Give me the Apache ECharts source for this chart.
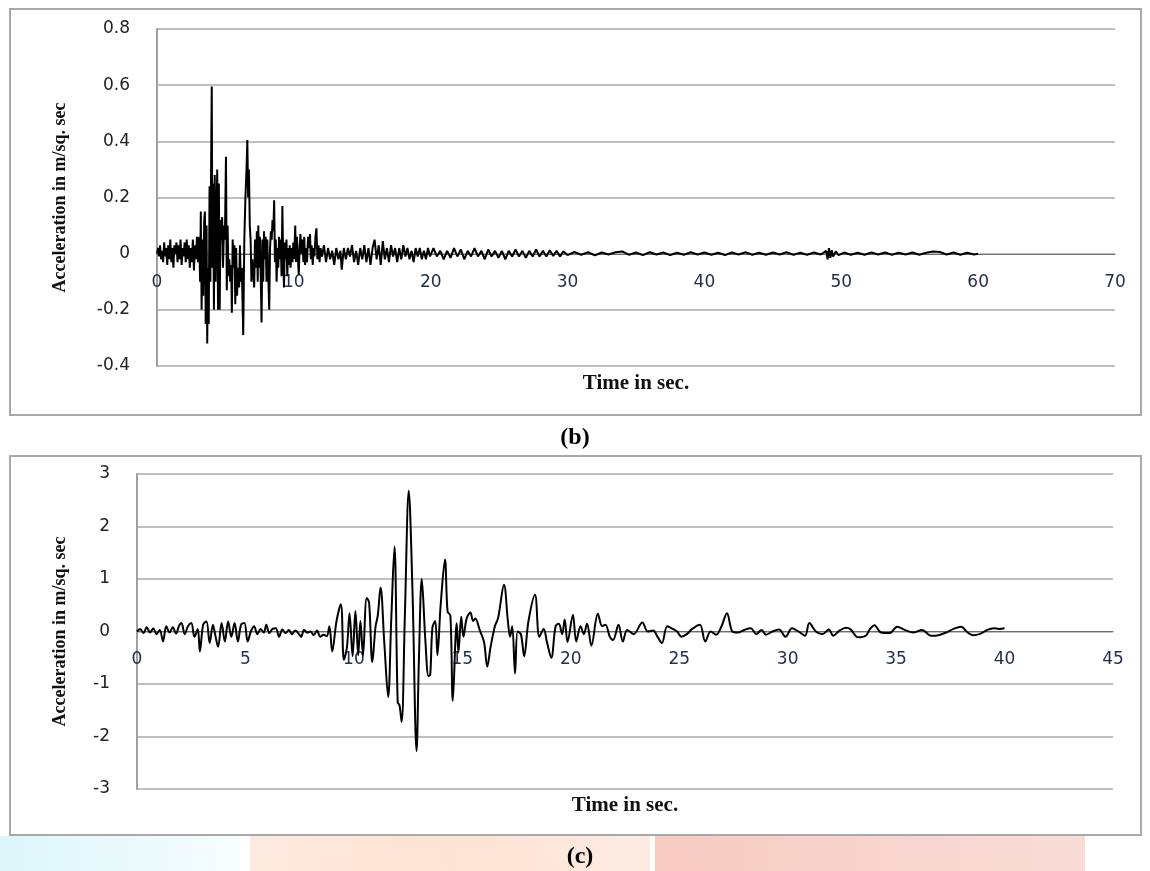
<!DOCTYPE html>
<html>
<head>
<meta charset="utf-8">
<script src="https://cdn.jsdelivr.net/npm/echarts@6/dist/echarts.min.js"></script>
<style>
  html, body { margin: 0; padding: 0; background: #fff; }
  #chart { width: 1150px; height: 871px; }
</style>
</head>
<body>
<div id="chart"></div>
<script>
// (b) record: [time s, acceleration m/s2]
const recordB = [
  [0,0],[0.08,0.02],[0.15,-0.01],[0.22,0.03],[0.3,-0.02],[0.37,0.01],[0.45,-0.03],[0.52,0.04],[0.6,-0.01],[0.67,0.02],
  [0.75,-0.04],[0.82,0.03],[0.9,-0.02],[0.97,0.05],[1.05,-0.03],[1.12,0.02],[1.2,-0.05],[1.27,0.03],[1.35,0],[1.42,0.04],
  [1.5,-0.03],[1.57,0.03],[1.65,-0.02],[1.72,0.05],[1.8,-0.04],[1.87,0.02],[1.95,-0.01],[2.02,0.04],[2.1,-0.03],[2.17,0.05],
  [2.25,-0.02],[2.32,0.03],[2.4,-0.05],[2.47,0.02],[2.55,-0.03],[2.62,0.05],[2.7,-0.06],[2.77,0.03],[2.85,-0.02],[2.92,0.06],
  [3.0,-0.03],[3.08,0.06],[3.15,-0.1],[3.2,0.15],[3.26,-0.2],[3.32,0.05],[3.38,-0.15],[3.45,0.12],[3.5,0.15],[3.56,-0.25],
  [3.62,0.1],[3.67,-0.32],[3.72,-0.05],[3.78,-0.25],[3.84,0.24],[3.9,-0.1],[3.95,0.3],[4.0,0.595],[4.05,-0.05],[4.1,0.25],
  [4.16,-0.2],[4.22,0.28],[4.28,-0.1],[4.34,0.1],[4.4,0.3],[4.46,-0.2],[4.52,0.25],[4.58,-0.2],[4.64,0.12],[4.7,0.05],
  [4.76,0.13],[4.82,-0.05],[4.9,0.1],[4.96,0.05],[5.04,0.345],[5.1,-0.13],[5.16,0.1],[5.22,-0.08],[5.28,-0.02],[5.35,-0.1],
  [5.42,-0.04],[5.47,-0.21],[5.53,0.05],[5.6,-0.05],[5.66,0.03],[5.72,-0.18],[5.78,0.02],[5.85,-0.15],[5.92,-0.05],[6.0,-0.12],
  [6.06,0.03],[6.12,-0.1],[6.2,-0.05],[6.3,-0.29],[6.38,0.05],[6.46,0.2],[6.54,0.3],[6.6,0.405],[6.66,0.2],[6.72,0.3],
  [6.78,0.1],[6.84,0.05],[6.9,-0.1],[6.96,-0.02],[7.03,-0.06],[7.1,-0.12],[7.16,0.05],[7.22,-0.05],[7.3,0.08],[7.36,-0.1],
  [7.4,0.1],[7.46,-0.05],[7.52,0.06],[7.58,-0.08],[7.64,-0.245],[7.7,0.05],[7.76,-0.1],[7.82,0.08],[7.88,-0.02],[7.94,0.06],
  [8.0,-0.1],[8.06,0.05],[8.12,-0.06],[8.2,-0.2],[8.26,0.02],[8.32,0.08],[8.38,0.05],[8.44,0.12],[8.5,0.08],[8.56,0.19],
  [8.62,-0.03],[8.68,0.05],[8.74,-0.1],[8.8,0.02],[8.86,-0.05],[8.92,0.06],[8.98,-0.02],[9.04,0.05],[9.1,-0.08],[9.16,0.17],
  [9.22,-0.02],[9.28,-0.12],[9.34,0.04],[9.4,-0.02],[9.46,0.05],[9.52,-0.08],[9.58,0.02],[9.64,-0.04],[9.7,0.03],[9.76,-0.05],
  [9.82,0.02],[9.9,-0.03],[9.96,0.04],[10.02,-0.02],[10.1,0.1],[10.16,-0.03],[10.22,0.06],[10.3,-0.02],[10.36,-0.075],[10.42,0.02],
  [10.48,0.07],[10.55,0],[10.62,0.05],[10.7,-0.03],[10.76,0.06],[10.82,-0.04],[10.9,0.02],[10.96,-0.03],[11.04,0.06],[11.1,0.02],
  [11.18,0.07],[11.24,-0.02],[11.3,0.03],[11.38,-0.04],[11.44,0.02],[11.5,-0.01],[11.58,0.06],[11.65,0.09],[11.72,-0.02],[11.8,0.03],
  [11.88,-0.03],[11.95,0.02],[12.05,-0.01],[12.2,0.03],[12.35,-0.03],[12.5,0.02],[12.65,-0.02],[12.8,0.01],[12.95,-0.04],[13.1,0.02],
  [13.25,-0.02],[13.4,0.01],[13.5,-0.057],[13.65,0.02],[13.8,-0.02],[13.95,0.02],[14.1,-0.01],[14.25,0.03],[14.4,-0.03],[14.55,0.01],
  [14.7,-0.04],[14.85,0.02],[15.0,-0.02],[15.15,0.03],[15.3,-0.03],[15.45,0.02],[15.6,-0.04],[15.75,0.02],[15.9,0.05],[16.05,-0.02],
  [16.2,0.03],[16.35,-0.04],[16.5,0.045],[16.65,-0.02],[16.8,0.02],[16.95,-0.03],[17.1,0.03],[17.25,-0.01],[17.4,0.02],[17.55,-0.03],
  [17.7,0.02],[17.85,-0.02],[18.0,0.03],[18.15,-0.01],[18.3,0.02],[18.45,-0.02],[18.6,0.01],[18.75,-0.03],[18.9,0.02],[19.05,-0.01],
  [19.2,0.02],[19.35,-0.02],[19.5,0.01],[19.65,-0.02],[19.8,0.02],[19.95,-0.01],[20.2,0.02],[20.45,-0.01],[20.7,0.01],[20.95,-0.02],
  [21.2,0.01],[21.45,-0.015],[21.7,0.02],[21.95,-0.01],[22.2,0.015],[22.45,-0.02],[22.7,0.01],[22.95,-0.01],[23.2,0.02],[23.45,-0.01],
  [23.7,0.01],[23.95,-0.02],[24.2,0.015],[24.45,-0.01],[24.7,0.01],[24.95,-0.015],[25.2,0.01],[25.45,-0.02],[25.7,0.01],[25.95,-0.01],
  [26.2,0.015],[26.45,-0.01],[26.7,0.01],[26.95,-0.015],[27.2,0.01],[27.45,-0.01],[27.7,0.015],[27.95,-0.01],[28.2,0.01],[28.45,-0.01],
  [28.7,0.012],[28.95,-0.008],[29.2,0.01],[29.45,-0.01],[29.7,0.008],[30.0,-0.005],[30.5,0.006],[31.0,-0.004],[31.5,0.005],[32.0,-0.006],
  [32.5,0.004],[33.0,-0.003],[33.5,0.005],[34.0,0.008],[34.5,-0.004],[35.0,0.004],[35.5,-0.005],[36.0,0.005],[36.5,-0.003],[37.0,0.004],
  [37.5,-0.005],[38.0,0.003],[38.5,-0.004],[39.0,0.005],[39.5,-0.003],[40.0,0.004],[40.5,-0.004],[41.0,0.003],[41.5,-0.005],[42.0,0.004],
  [42.5,-0.003],[43.0,0.005],[43.5,-0.004],[44.0,0.003],[44.5,-0.004],[45.0,0.004],[45.5,-0.003],[46.0,0.005],[46.5,-0.004],[47.0,0.003],
  [47.5,-0.004],[48.0,0.004],[48.5,-0.003],[48.9,0.01],[49.0,-0.02],[49.1,0.02],[49.2,-0.015],[49.3,0.012],[49.4,-0.01],[49.6,0.008],
  [49.8,-0.005],[50.2,0.004],[50.7,-0.004],[51.2,0.003],[51.7,-0.004],[52.2,0.004],[52.7,-0.003],[53.2,0.004],[53.7,-0.004],[54.2,0.003],
  [54.7,-0.003],[55.2,0.004],[55.7,-0.004],[56.2,0.003],[56.7,0.008],[57.2,0.006],[57.7,-0.003],[58.2,0.004],[58.7,-0.004],[59.2,0.003],
  [59.7,-0.003],[60.0,0]
];

// (c) record: [time s, acceleration m/s2]
const recordC = [
  [0,0],[0.15,0.05],[0.3,-0.03],[0.45,0.08],[0.6,-0.02],[0.75,0.06],[0.9,-0.05],[1.05,0.03],[1.2,-0.19],[1.35,0.1],
  [1.5,-0.02],[1.65,0.08],[1.8,-0.04],[1.95,0.12],[2.05,0.16],[2.2,-0.05],[2.35,0.1],[2.5,0.16],[2.65,-0.1],[2.8,0.05],
  [2.9,-0.38],[3.05,0.13],[3.2,0.19],[3.35,-0.22],[3.5,0.13],[3.6,-0.05],[3.74,-0.29],[3.9,0.16],[4.05,-0.19],[4.2,0.19],
  [4.35,-0.1],[4.5,0.16],[4.65,-0.19],[4.8,0.13],[4.95,0.16],[5.1,-0.19],[5.25,0],[5.4,0.1],[5.55,-0.05],[5.7,0.05],
  [5.85,-0.02],[5.96,0.13],[6.1,-0.03],[6.25,0.05],[6.4,0.06],[6.55,-0.1],[6.7,0.04],[6.85,-0.03],[7.0,0.03],[7.15,-0.05],
  [7.3,0.02],[7.45,-0.04],[7.57,-0.1],[7.7,0.03],[7.85,-0.02],[8.0,0],[8.15,-0.07],[8.3,0.02],[8.45,-0.1],[8.6,-0.06],
  [8.75,-0.09],[8.87,0.1],[9.0,-0.38],[9.2,0.2],[9.4,0.52],[9.54,-0.54],[9.68,-0.3],[9.8,0.35],[9.94,-0.47],[10.07,0.39],
  [10.2,-0.45],[10.3,0.2],[10.42,-0.45],[10.59,0.64],[10.7,0.55],[10.85,-0.58],[11.0,0.1],[11.1,0.3],[11.23,0.84],[11.4,-0.2],
  [11.58,-1.25],[11.72,0.2],[11.87,1.62],[12.02,-1.35],[12.1,-1.4],[12.2,-1.72],[12.35,0.3],[12.53,2.68],[12.7,0.8],[12.89,-2.28],
  [13.0,-0.5],[13.13,1.0],[13.3,-0.2],[13.44,-0.85],[13.52,-0.82],[13.62,0.07],[13.75,0.2],[13.85,-0.45],[14.0,0.5],[14.2,1.37],
  [14.32,0.38],[14.45,0.3],[14.56,-1.32],[14.74,0.16],[14.82,-0.4],[14.95,0.28],[15.05,-0.1],[15.2,0.25],[15.37,0.36],[15.5,0.2],
  [15.6,0.25],[15.8,0.03],[16.0,-0.2],[16.15,-0.67],[16.3,-0.3],[16.5,0.1],[16.65,0.26],[16.92,0.89],[17.1,0.2],[17.2,-0.1],
  [17.3,0.1],[17.43,-0.8],[17.55,0],[17.7,-0.05],[17.85,-0.47],[18.05,0.2],[18.35,0.7],[18.55,-0.1],[18.75,0.05],[18.9,-0.2],
  [19.1,-0.5],[19.3,0.1],[19.45,0.15],[19.6,-0.05],[19.72,0.23],[19.85,-0.2],[20.1,0.32],[20.25,-0.19],[20.45,0.1],[20.6,-0.05],
  [20.75,0.15],[20.95,-0.27],[21.25,0.34],[21.45,0.1],[21.6,0.13],[21.8,-0.1],[21.95,-0.16],[22.2,0.13],[22.4,-0.19],[22.6,0.03],
  [22.9,-0.05],[23.3,0.17],[23.55,0],[23.8,0.02],[24.0,-0.1],[24.2,-0.22],[24.45,0.1],[24.7,0.05],[24.9,0],[25.1,-0.1],
  [25.35,-0.05],[25.6,0.05],[25.95,0.13],[26.2,-0.19],[26.45,0],[26.7,-0.06],[26.95,0.1],[27.2,0.35],[27.45,0],[27.7,-0.02],
  [28.0,0.03],[28.3,0.06],[28.55,-0.05],[28.8,0.03],[29.0,-0.06],[29.3,0],[29.6,0.04],[29.9,-0.1],[30.2,0.06],[30.5,0],
  [30.8,-0.08],[31.0,0.16],[31.3,0],[31.6,-0.05],[31.9,0.04],[32.1,-0.08],[32.4,0.02],[32.7,0.07],[32.9,0.04],[33.25,-0.11],
  [33.6,-0.08],[33.8,0.05],[34.0,0.12],[34.3,-0.02],[34.7,-0.03],[35.05,0.09],[35.4,0.03],[35.8,-0.02],[36.2,0.03],[36.6,-0.08],
  [36.95,-0.07],[37.3,-0.02],[37.7,0.06],[38.0,0.09],[38.3,-0.02],[38.55,-0.07],[38.9,-0.04],[39.2,0.03],[39.5,0.06],[39.75,0.05],
  [40.0,0.06]
];

const axisB = { xMax: 70, xStep: 10, yMin: -0.4, yMax: 0.8, yStep: 0.2 };
const axisC = { xMax: 45, xStep: 5, yMin: -3, yMax: 3, yStep: 1 };

const yName = 'Acceleration in m/sq. sec';
const xName = 'Time in sec.';
const panelTags = ['(b)', '(c)'];

var chartDom = document.getElementById('chart');
var myChart = echarts.init(chartDom);
var option;

// x axis sits on the zero line: shift it up from the grid bottom
function makeX(idx, ax, shift, gap) {
  return {
    type: 'value',
    gridIndex: idx,
    min: 0,
    max: ax.xMax,
    interval: ax.xStep,
    offset: -shift,
    name: xName,
    nameLocation: 'middle',
    nameGap: gap,
    nameTextStyle: {
      fontFamily: 'Liberation Serif',
      fontWeight: 'bold',
      fontSize: 21,
      color: '#111'
    },
    axisLine: { onZero: false, lineStyle: { color: '#6e6e6e', width: 1 } },
    axisTick: { show: false },
    splitLine: { show: false },
    axisLabel: {
      margin: 20,
      fontFamily: 'DejaVu Sans',
      fontSize: 17,
      color: '#22304c'
    }
  };
}

function makeY(idx, ax, gap) {
  return {
    type: 'value',
    gridIndex: idx,
    min: ax.yMin,
    max: ax.yMax,
    interval: ax.yStep,
    name: yName,
    nameLocation: 'middle',
    nameRotate: 90,
    nameGap: gap,
    nameTextStyle: {
      fontFamily: 'Liberation Serif',
      fontWeight: 'bold',
      fontSize: 18,
      color: '#111'
    },
    axisLine: { show: true, lineStyle: { color: '#a0a0a0', width: 2 } },
    axisTick: { show: false },
    splitLine: { show: true, lineStyle: { color: '#aaaaaa', width: 1.5 } },
    axisLabel: {
      margin: 27,
      fontFamily: 'DejaVu Sans',
      fontSize: 17,
      color: '#222',
      formatter: function (v) { return String(Math.round(v * 10) / 10); }
    }
  };
}

option = {
  animation: false,
  backgroundColor: '#fff',
  grid: [
    { left: 157, top: 29, width: 958, height: 337, outerBoundsMode: 'none' },
    { left: 137, top: 474, width: 976, height: 315, outerBoundsMode: 'none' }
  ],
  xAxis: [makeX(0, axisB, 112, 119), makeX(1, axisC, 157.5, 164)],
  yAxis: [makeY(0, axisB, 88), makeY(1, axisC, 68)],
  graphic: [
    {
      type: 'rect', z: -10, silent: true,
      shape: { x: 0, y: 836, width: 240, height: 35 },
      style: { fill: new echarts.graphic.LinearGradient(0, 0, 1, 0, [
        { offset: 0, color: '#dcf6fa' }, { offset: 1, color: '#f7fdfe' }
      ]) }
    },
    {
      type: 'rect', z: -10, silent: true,
      shape: { x: 250, y: 836, width: 400, height: 35 },
      style: { fill: new echarts.graphic.LinearGradient(0, 0, 1, 0, [
        { offset: 0, color: '#fdeadf' }, { offset: 0.5, color: '#fde3d3' }, { offset: 1, color: '#fdebe2' }
      ]) }
    },
    {
      type: 'rect', z: -10, silent: true,
      shape: { x: 655, y: 836, width: 430, height: 35 },
      style: { fill: new echarts.graphic.LinearGradient(0, 0, 1, 0, [
        { offset: 0, color: '#f6cbc2' }, { offset: 1, color: '#f9dcd6' }
      ]) }
    },
    {
      type: 'rect', silent: true,
      shape: { x: 10, y: 9, width: 1131, height: 406 },
      style: { fill: 'none', stroke: '#a8a8a8', lineWidth: 2 }
    },
    {
      type: 'rect', silent: true,
      shape: { x: 10, y: 456, width: 1131, height: 379 },
      style: { fill: 'none', stroke: '#a8a8a8', lineWidth: 2 }
    },
    {
      type: 'text', silent: true, x: 575, y: 438,
      style: {
        text: panelTags[0], textAlign: 'center', textVerticalAlign: 'middle',
        font: 'bold 24px "Liberation Serif"', fill: '#000'
      }
    },
    {
      type: 'text', silent: true, x: 580, y: 857,
      style: {
        text: panelTags[1], textAlign: 'center', textVerticalAlign: 'middle',
        font: 'bold 24px "Liberation Serif"', fill: '#000'
      }
    }
  ],
  series: [
    {
      type: 'line',
      xAxisIndex: 0,
      yAxisIndex: 0,
      showSymbol: false,
      sampling: null,
      lineStyle: { color: '#000', width: 2 },
      data: recordB
    },
    {
      type: 'line',
      xAxisIndex: 1,
      yAxisIndex: 1,
      showSymbol: false,
      smooth: 0.35,
      lineStyle: { color: '#000', width: 2 },
      data: recordC
    }
  ]
};

option && myChart.setOption(option);
</script>
</body>
</html>
